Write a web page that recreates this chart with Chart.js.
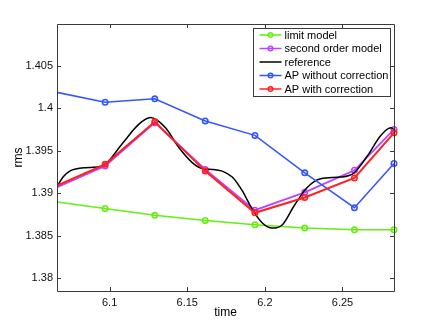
<!DOCTYPE html>
<html>
<head>
<meta charset="utf-8">
<script src="https://cdn.jsdelivr.net/npm/chart.js@4/dist/chart.umd.min.js"></script>
<style>
  html, body { margin: 0; padding: 0; background: #fff; }
  #wrap { width: 436px; height: 328px; }
</style>
</head>
<body>
<div id="wrap"><canvas id="rmsChart"></canvas></div>
<script>
// sample times of the model points (first one sits just left of the axis)
const times = [6.0650, 6.0971, 6.1291, 6.1616, 6.1936, 6.2257, 6.2577, 6.2832];

const limitModel = [1.3890, 1.3882, 1.3874, 1.3868, 1.3863, 1.3859, 1.3857, 1.3857];
const secondOrder = [1.3906, 1.3932, 1.3983, 1.3928, 1.3880, 1.3901, 1.3927, 1.3975];
const apWithout = [1.4019, 1.4007, 1.4011, 1.3985, 1.3968, 1.3924, 1.3883, 1.3935];
const apWith = [1.3908, 1.3934, 1.3984, 1.3926, 1.3877, 1.3895, 1.3918, 1.3971];

const refTimes = [6.0662, 6.0700, 6.0743, 6.0843, 6.0953, 6.1080, 6.1187, 6.1263, 6.1360, 6.1445,
  6.1532, 6.1596, 6.1661, 6.1725, 6.1790, 6.1854, 6.1919, 6.1984, 6.2048, 6.2113,
  6.2188, 6.2274, 6.2360, 6.2489, 6.2575, 6.2661, 6.2747, 6.2812, 6.2832];
const refValues = [1.3908, 1.3919, 1.3926, 1.3930, 1.3932, 1.3958, 1.3981, 1.3989, 1.3977, 1.3954,
  1.3936, 1.3929, 1.3928, 1.3926, 1.3919, 1.3903, 1.3881, 1.3865, 1.3859, 1.3863,
  1.3885, 1.3907, 1.3917, 1.3919, 1.3924, 1.3944, 1.3968, 1.3977, 1.3975];

const xTicks = [6.1, 6.15, 6.2, 6.25];
const xTickLabels = ['6.1', '6.15', '6.2', '6.25'];
const yTicks = [1.38, 1.385, 1.39, 1.395, 1.4, 1.405];
const yTickLabels = ['1.38', '1.385', '1.39', '1.395', '1.4', '1.405'];

const FONT = "'Liberation Sans', Arial, Helvetica, sans-serif";
const AXIS_COLOR = '#3a3a3a';

function pts(xs, ys) {
    return xs.map((x, i) => ({ x: x, y: ys[i] }));
}

function modelSet(label, data, color, width, order) {
    return {
        label: label,
        data: pts(times, data),
        borderColor: color,
        backgroundColor: color,
        borderWidth: width,
        pointRadius: times.map((t, i) => i === 0 ? 0 : 2.7),
        pointBorderWidth: 1.6,
        pointBackgroundColor: 'rgba(0,0,0,0)',
        pointBorderColor: color,
        tension: 0,
        clip: { left: 0, top: 6, right: 6, bottom: 6 },
        order: order
    };
}

// matlab-like box with inward ticks on all four sides
const frame = {
    id: 'frame',
    afterDatasetsDraw(chart) {
        const ctx = chart.ctx;
        const a = chart.chartArea;
        const xs = chart.scales.x, ys = chart.scales.y;
        const tl = 4;
        ctx.save();
        ctx.strokeStyle = AXIS_COLOR;
        ctx.lineWidth = 1;
        ctx.beginPath();
        ctx.rect(Math.round(a.left) + 0.5, Math.round(a.top) + 0.5,
            Math.round(a.right - a.left), Math.round(a.bottom - a.top));
        xTicks.forEach(v => {
            const px = Math.round(xs.getPixelForValue(v)) + 0.5;
            ctx.moveTo(px, a.bottom); ctx.lineTo(px, a.bottom - tl);
            ctx.moveTo(px, a.top); ctx.lineTo(px, a.top + tl);
        });
        yTicks.forEach(v => {
            const py = Math.round(ys.getPixelForValue(v)) + 0.5;
            ctx.moveTo(a.left, py); ctx.lineTo(a.left + tl, py);
            ctx.moveTo(a.right, py); ctx.lineTo(a.right - tl, py);
        });
        ctx.stroke();
        ctx.restore();
    }
};

const legendBox = {
    id: 'legendBox',
    afterDraw(chart) {
        const ctx = chart.ctx;
        const a = chart.chartArea;
        const w = 137, h = 68;
        const x0 = Math.round(a.right - 4 - w) + 0.5, y0 = Math.round(a.top + 4) + 0.5;
        ctx.save();
        ctx.fillStyle = '#fff';
        ctx.strokeStyle = AXIS_COLOR;
        ctx.lineWidth = 1;
        ctx.fillRect(x0, y0, w, h);
        ctx.strokeRect(x0, y0, w, h);
        ctx.font = '11px ' + FONT;
        ctx.textBaseline = 'middle';
        chart.data.datasets.forEach((ds, i) => {
            const yy = y0 + 6.5 + i * 13.5;
            ctx.strokeStyle = ds.borderColor;
            ctx.lineWidth = 1.5;
            ctx.beginPath();
            ctx.moveTo(x0 + 6, yy); ctx.lineTo(x0 + 28, yy);
            ctx.stroke();
            if (ds.label !== 'reference') {
                ctx.beginPath();
                ctx.arc(x0 + 17, yy, 2.3, 0, Math.PI * 2);
                ctx.stroke();
            }
            ctx.fillStyle = '#000';
            ctx.fillText(ds.label, x0 + 31, yy + 0.5);
        });
        ctx.restore();
    }
};

document.addEventListener('DOMContentLoaded', () => {
    const ctx = document.getElementById('rmsChart');
    new Chart(ctx, {
        type: 'line',
        data: {
            datasets: [
                modelSet('limit model', limitModel, '#66ee11', 1.5, 5),
                modelSet('second order model', secondOrder, '#bb44ff', 1.8, 4),
                {
                    label: 'reference',
                    data: pts(refTimes, refValues),
                    borderColor: '#000',
                    backgroundColor: '#000',
                    borderWidth: 1.5,
                    pointRadius: 0,
                    cubicInterpolationMode: 'monotone',
                    order: 3
                },
                modelSet('AP without correction', apWithout, '#3355ff', 1.5, 2),
                modelSet('AP with correction', apWith, '#ff2020', 2, 1)
            ]
        },
        options: {
            responsive: true,
            maintainAspectRatio: false,
            animation: false,
            devicePixelRatio: 1,
            layout: { padding: { left: 0, top: 24, right: 42, bottom: 0 } },
            plugins: {
                legend: { display: false },
                tooltip: { enabled: false }
            },
            scales: {
                x: {
                    type: 'linear',
                    min: 6.0661,
                    max: 6.2832,
                    grid: { display: false, drawTicks: false },
                    border: { display: false },
                    afterBuildTicks: s => { s.ticks = xTicks.map(v => ({ value: v })); },
                    afterFit: s => { s.height = 37; },
                    ticks: {
                        color: '#111',
                        font: { family: FONT, size: 11 },
                        padding: 5,
                        maxRotation: 0,
                        callback: (v, i) => xTickLabels[i]
                    },
                    title: {
                        display: true,
                        text: 'time',
                        color: '#000',
                        font: { family: FONT, size: 12 },
                        padding: { top: 0, bottom: 8 }
                    }
                },
                y: {
                    type: 'linear',
                    min: 1.3785,
                    max: 1.4099,
                    grid: { display: false, drawTicks: false },
                    border: { display: false },
                    afterBuildTicks: s => { s.ticks = yTicks.map(v => ({ value: v })); },
                    afterFit: s => { s.width = 57; },
                    ticks: {
                        color: '#111',
                        font: { family: FONT, size: 11 },
                        padding: 4,
                        callback: (v, i) => yTickLabels[i]
                    },
                    title: {
                        display: true,
                        text: 'rms',
                        color: '#000',
                        font: { family: FONT, size: 12 },
                        padding: { top: 11, bottom: 0 }
                    }
                }
            }
        },
        plugins: [frame, legendBox]
    });
});
</script>
</body>
</html>
